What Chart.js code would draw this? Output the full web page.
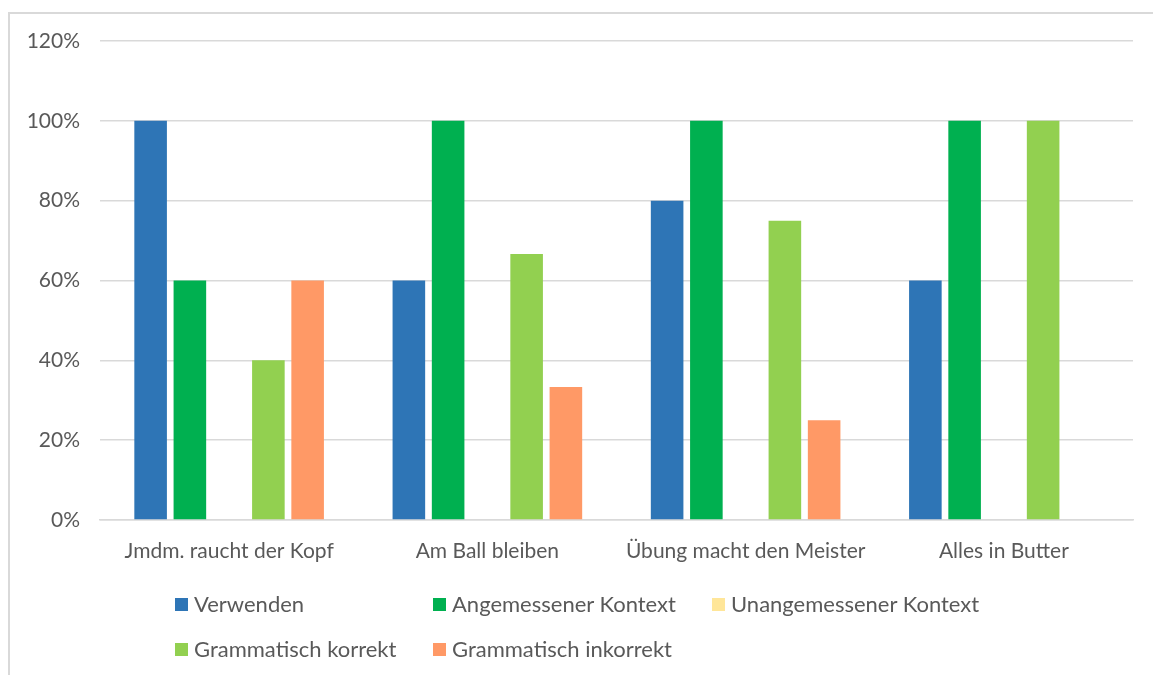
<!DOCTYPE html>
<html lang="de">
<head>
<meta charset="utf-8">
<title>Redewendungen</title>
<script src="https://cdn.jsdelivr.net/npm/chart.js@4"></script>
<style>
  html, body { margin: 0; padding: 0; background: #fff; }
  #wrap { position: relative; width: 1153px; height: 675px; overflow: hidden; }
  #frame {
    position: absolute; left: 8px; top: 12px; width: 1160px; height: 700px;
    border: 2px solid #d9d9d9; box-sizing: border-box;
  }
  canvas { position: absolute; left: 0; top: 0; }
  .legend-item {
    position: absolute; display: flex; align-items: center;
    font-family: Lato, "Open Sans", sans-serif; font-size: 22px; color: #595959;
    white-space: nowrap; line-height: 1;
  }
  .legend-item span.box { width: 13px; height: 13px; margin-right: 6px; display: inline-block; }
</style>
</head>
<body>
<div id="wrap">
  <div id="frame"></div>
  <canvas id="resultsChart" width="1153" height="675"></canvas>
  <div id="legend"></div>
</div>
<script>
// Categories and series (shares in percent)
const categories = ["Jmdm. raucht der Kopf", "Am Ball bleiben", "Übung macht den Meister", "Alles in Butter"];
const seriesNames = ["Verwenden", "Angemessener Kontext", "Unangemessener Kontext", "Grammatisch korrekt", "Grammatisch inkorrekt"];
const verwenden = [100, 60, 80, 60];
const angemessen = [60, 100, 100, 100];
const unangemessen = [0, 0, 0, 0];
const grammKorrekt = [40, 66.67, 75, 100];
const grammInkorrekt = [60, 33.33, 25, 0];
const yTicks = [0, 20, 40, 60, 80, 100, 120];

const seriesColors = ["#2e75b6", "#00b050", "#ffe699", "#92d050", "#ff9966"];
const seriesValues = [verwenden, angemessen, unangemessen, grammKorrekt, grammInkorrekt];

const textColor = "#595959";
const fontFamily = "Lato, 'Open Sans', sans-serif";

const ctx = document.getElementById("resultsChart").getContext("2d");

new Chart(ctx, {
  type: "bar",
  data: {
    labels: categories,
    datasets: seriesNames.map((name, i) => ({
      label: name,
      data: seriesValues[i],
      backgroundColor: seriesColors[i],
      borderWidth: 0,
      barPercentage: 0.83,
      categoryPercentage: 0.76,
    })),
  },
  options: {
    responsive: false,
    animation: false,
    layout: { padding: { top: 41, right: 20, left: 0, bottom: 0 } },
    scales: {
      x: {
        grid: { display: false, drawTicks: false },
        border: { color: "#d9d9d9", width: 1.5 },
        ticks: {
          color: textColor,
          font: { family: fontFamily, size: 21 },
          padding: 19,
          maxRotation: 0,
        },
        afterFit: (scale) => { scale.height = 155; },
      },
      y: {
        min: 0,
        max: 120,
        afterBuildTicks: (scale) => { scale.ticks = yTicks.map((v) => ({ value: v })); },
        grid: { color: "#d9d9d9", lineWidth: 1.5, drawTicks: false },
        border: { display: false },
        ticks: {
          color: textColor,
          font: { family: fontFamily, size: 21 },
          padding: 20,
          callback: (v) => v + "%",
        },
        afterFit: (scale) => { scale.width = 100; },
      },
    },
    plugins: {
      legend: { display: false },
      tooltip: { enabled: false },
    },
  },
});

// Legend laid out in columns below the plot
const legendSlots = [
  { left: 175, top: 604 },
  { left: 433, top: 604 },
  { left: 712, top: 604 },
  { left: 175, top: 649 },
  { left: 433, top: 649 },
];
const legendEl = document.getElementById("legend");
seriesNames.forEach((name, i) => {
  const item = document.createElement("div");
  item.className = "legend-item";
  item.style.left = legendSlots[i].left + "px";
  item.style.top = (legendSlots[i].top - 11) + "px";
  item.style.height = "22px";
  const box = document.createElement("span");
  box.className = "box";
  box.style.background = seriesColors[i];
  item.appendChild(box);
  item.appendChild(document.createTextNode(name));
  legendEl.appendChild(item);
});
</script>
</body>
</html>
